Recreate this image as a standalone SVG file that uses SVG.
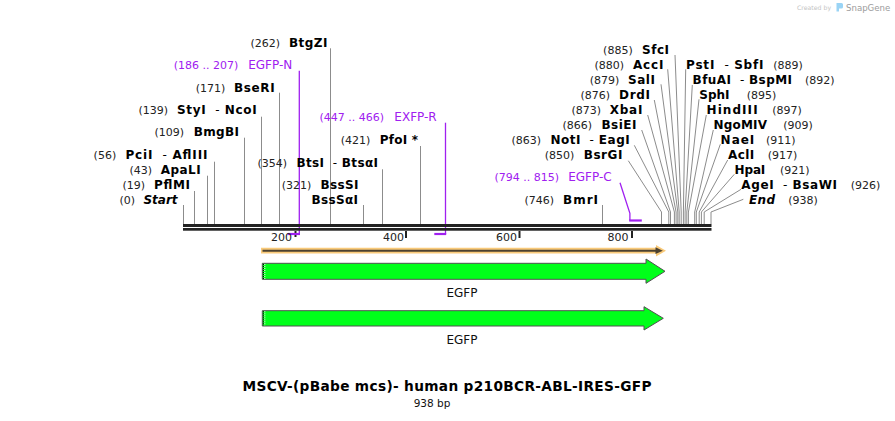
<svg xmlns="http://www.w3.org/2000/svg" width="895" height="421" viewBox="0 0 895 421" xml:space="preserve">
<style>
text{font-family:"DejaVu Sans","Liberation Sans",sans-serif;white-space:pre}
.n{font-size:11px;fill:#222}
.b{font-size:12px;font-weight:bold;fill:#000}
.h{font-size:12px;font-weight:normal;fill:#000}
.p{fill:#a020f0}
.pn{font-size:11px}
.pl{font-size:12px}
.e{text-anchor:end}
.cut{stroke:#8c8c8c;stroke-width:1;fill:none}
.pr{stroke:#a020f0;stroke-width:1.3;fill:none}
.prb{stroke:#a020f0;stroke-width:2.2;fill:none}
.tk{stroke:#222;stroke-width:2}
.tl{font-size:11px;fill:#222;text-anchor:end}
.gfp{fill:#00ff1a;stroke:#505050;stroke-width:1}
.lbl{font-size:12px;fill:#111;text-anchor:middle}
</style>
<rect width="895" height="421" fill="#fff"/>

<!-- watermark -->
<g id="watermark">
<text x="797" y="10" style="font-size:6.2px;fill:#c4c4c4">Created by</text>
<path d="M836.5,3 h5 q1.5,0 1.5,1.5 v2.5 q0,1.5 -1.5,1.5 h-2.5 v3 h-2.5 z" fill="#9ad4f5"/>
<text x="846" y="11" style="font-size:8.6px;fill:#9c9c9c">SnapGene</text>
</g>

<!-- connectors -->
<g id="connectors">
<line class="cut" x1="183.5" y1="205" x2="183.5" y2="224"/>
<line class="cut" x1="194.5" y1="191" x2="194.5" y2="224"/>
<line class="cut" x1="207.5" y1="175.7" x2="207.5" y2="224"/>
<line class="cut" x1="214.5" y1="161.7" x2="214.5" y2="224"/>
<line class="cut" x1="244.5" y1="137.7" x2="244.5" y2="224"/>
<line class="cut" x1="261.5" y1="116.7" x2="261.5" y2="224"/>
<line class="cut" x1="279.5" y1="92.7" x2="279.5" y2="224"/>
<line class="cut" x1="330.5" y1="48.3" x2="330.5" y2="224"/>
<line class="cut" x1="363.5" y1="205" x2="363.5" y2="224"/>
<line class="cut" x1="382.5" y1="169.3" x2="382.5" y2="224"/>
<line class="cut" x1="420.5" y1="146" x2="420.5" y2="224"/>
<line class="cut" x1="602.5" y1="205" x2="602.5" y2="224"/>
<!-- right cluster, left-side labels -->
<polyline class="cut" points="628.3,160.7 661.5,212 661.5,224"/>
<polyline class="cut" points="634.3,145.3 668.8,212 668.8,224"/>
<polyline class="cut" points="641.7,130 670.5,212 670.5,224"/>
<polyline class="cut" points="647.7,115 674.4,212 674.4,224"/>
<polyline class="cut" points="654.3,100 676.1,212 676.1,224"/>
<polyline class="cut" points="661,84.3 677.8,212 677.8,224"/>
<polyline class="cut" points="667.7,69.3 679.2,212 679.2,224"/>
<polyline class="cut" points="675,55 681.2,212 681.2,224"/>
<!-- right cluster, right-side labels -->
<polyline class="cut" points="685.7,69.3 683.4,212 683.4,224"/>
<polyline class="cut" points="692.3,85 685.1,212 685.1,224"/>
<polyline class="cut" points="699,99.3 686.8,212 686.8,224"/>
<polyline class="cut" points="706.3,115 688.4,212 688.4,224"/>
<polyline class="cut" points="713.3,130 694.7,212 694.7,224"/>
<polyline class="cut" points="720.3,144.3 696.3,212 696.3,224"/>
<polyline class="cut" points="727.7,160 699.2,212 699.2,224"/>
<polyline class="cut" points="734.3,174.3 701.4,212 701.4,224"/>
<polyline class="cut" points="741,189.3 704.2,212 704.2,224"/>
<polyline class="cut" points="743.3,199.3 711,212 711,224"/>
<!-- primers -->
<polyline class="pr" points="299.3,70.7 299.3,234"/>
<line class="prb" x1="287.7" y1="234" x2="300" y2="234"/>
<polyline class="pr" points="445.5,122.7 445.5,234"/>
<line class="prb" x1="434.3" y1="234" x2="446.2" y2="234"/>
<polyline class="pr" points="620,182.7 629.9,213.3 629.9,220.5"/>
<line class="prb" x1="629.2" y1="220.5" x2="641.8" y2="220.5"/>
</g>

<!-- backbone and ruler -->
<g id="backbone">
<rect x="183" y="224" width="528.5" height="3" fill="#222"/>
<rect x="183" y="228" width="528.5" height="2.7" fill="#222"/>
<line class="tk" x1="295.5" y1="231" x2="295.5" y2="238" stroke-dasharray="2,2"/>
<line class="tk" x1="406" y1="231" x2="406" y2="238"/>
<line class="tk" x1="519.5" y1="231" x2="519.5" y2="238"/>
<line class="tk" x1="632" y1="231" x2="632" y2="238"/>
<text class="tl" x="292" y="241">200</text>
<text class="tl" x="404" y="241">400</text>
<text class="tl" x="517" y="241">600</text>
<text class="tl" x="628.5" y="241">800</text>
</g>

<!-- left sites -->
<g id="site-start"><text class="n e" x="135" y="204.2">(0)</text><text class="b e" x="177.5" y="204.2" font-style="italic" textLength="34" lengthAdjust="spacing">Start</text></g>
<g id="site-pflmi"><text class="n e" x="145" y="189.2">(19)</text><text class="b e" x="190" y="189.2" textLength="36" lengthAdjust="spacing">PflMI</text></g>
<g id="site-apali"><text class="n e" x="152" y="174.2">(43)</text><text class="b e" x="200.7" y="174.2" textLength="40" lengthAdjust="spacing">ApaLI</text></g>
<g id="site-pcii"><text class="n e" x="116.2" y="159.2">(56)</text><text class="b e" x="207.4" y="159.2" textLength="82" lengthAdjust="spacing">PciI<tspan class="h">  - </tspan>AflIII</text></g>
<g id="site-bmgbi"><text class="n e" x="184" y="136">(109)</text><text class="b e" x="239" y="136" textLength="45.3" lengthAdjust="spacing">BmgBI</text></g>
<g id="site-styi"><text class="n e" x="168" y="114.2">(139)</text><text class="b e" x="256.7" y="114.2" textLength="79.7" lengthAdjust="spacing">StyI<tspan class="h">  - </tspan>NcoI</text></g>
<g id="site-bseri"><text class="n e" x="225.3" y="91.5">(171)</text><text class="b e" x="274.7" y="91.5" textLength="40.7" lengthAdjust="spacing">BseRI</text></g>
<g id="primer-egfp-n"><text class="p pn e" x="238.3" y="69.2">(186 .. 207)</text><text class="p pl e" x="292.3" y="69.2">EGFP-N</text></g>
<g id="site-btgzi"><text class="n e" x="280" y="46.5">(262)</text><text class="b e" x="327.4" y="46.5" textLength="38.4" lengthAdjust="spacing">BtgZI</text></g>
<g id="site-bsssi"><text class="n e" x="311.3" y="189.2">(321)</text><text class="b e" x="358.4" y="189.2" textLength="38" lengthAdjust="spacing">BssSI</text><text class="b e" x="358" y="203.5" textLength="46.6" lengthAdjust="spacing">BssSαI</text></g>
<g id="site-btsi"><text class="n e" x="287" y="166.5">(354)</text><text class="b e" x="378" y="166.5" textLength="81.6" lengthAdjust="spacing">BtsI<tspan class="h">  - </tspan>BtsαI</text></g>
<g id="site-pfoi"><text class="n e" x="370.3" y="144.2">(421)</text><text class="b e" x="418" y="144.2" textLength="38.3" lengthAdjust="spacing">PfoI *</text></g>
<g id="primer-exfp-r"><text class="p pn e" x="384" y="121">(447 .. 466)</text><text class="p pl e" x="436.7" y="121">EXFP-R</text></g>

<!-- right cluster, left-side labels -->
<g id="site-bmri"><text class="n e" x="554" y="204.2">(746)</text><text class="b e" x="598" y="204.2" textLength="35" lengthAdjust="spacing">BmrI</text></g>
<g id="primer-egfp-c"><text class="p pn e" x="559" y="181">(794 .. 815)</text><text class="p pl e" x="611.7" y="181">EGFP-C</text></g>
<g id="site-bsrgi"><text class="n e" x="574.3" y="159.2">(850)</text><text class="b e" x="622.4" y="159.2" textLength="38.7" lengthAdjust="spacing">BsrGI</text></g>
<g id="site-noti"><text class="n e" x="541" y="143.5">(863)</text><text class="b e" x="629.7" y="143.5" textLength="79.3" lengthAdjust="spacing">NotI<tspan class="h">  - </tspan>EagI</text></g>
<g id="site-bsiei"><text class="n e" x="592" y="128.5">(866)</text><text class="b e" x="636.4" y="128.5" textLength="35" lengthAdjust="spacing">BsiEI</text></g>
<g id="site-xbai"><text class="n e" x="601" y="113.5">(873)</text><text class="b e" x="642.4" y="113.5" textLength="32.7" lengthAdjust="spacing">XbaI</text></g>
<g id="site-drdi"><text class="n e" x="610" y="98.5">(876)</text><text class="b e" x="650" y="98.5" textLength="31" lengthAdjust="spacing">DrdI</text></g>
<g id="site-sali"><text class="n e" x="619.3" y="83.5">(879)</text><text class="b e" x="655" y="83.5" textLength="27" lengthAdjust="spacing">SalI</text></g>
<g id="site-acci"><text class="n e" x="624" y="68.5">(880)</text><text class="b e" x="663.4" y="68.5" textLength="30.4" lengthAdjust="spacing">AccI</text></g>
<g id="site-sfci"><text class="n e" x="632.7" y="54.2">(885)</text><text class="b e" x="669" y="54.2" textLength="27" lengthAdjust="spacing">SfcI</text></g>

<!-- right cluster, right-side labels -->
<g id="site-psti"><text class="b" x="686" y="68.5" textLength="77.5" lengthAdjust="spacing">PstI<tspan class="h">  - </tspan>SbfI</text><text class="n" x="773.3" y="68.5">(889)</text></g>
<g id="site-bfuai"><text class="b" x="692.6" y="84.2" textLength="99.4" lengthAdjust="spacing">BfuAI<tspan class="h">  - </tspan>BspMI</text><text class="n" x="805" y="84.2">(892)</text></g>
<g id="site-sphi"><text class="b" x="699.3" y="98.5">SphI</text><text class="n" x="746.7" y="98.5">(895)</text></g>
<g id="site-hindiii"><text class="b" x="706.6" y="114.2" textLength="51" lengthAdjust="spacing">HindIII</text><text class="n" x="772.3" y="114.2">(897)</text></g>
<g id="site-ngomiv"><text class="b" x="713.6" y="129.2" textLength="53.4" lengthAdjust="spacing">NgoMIV</text><text class="n" x="783.3" y="129.2">(909)</text></g>
<g id="site-naei"><text class="b" x="720.6" y="143.5" textLength="33.7" lengthAdjust="spacing">NaeI</text><text class="n" x="766" y="143.5">(911)</text></g>
<g id="site-acli"><text class="b" x="728" y="159.2" textLength="26.3" lengthAdjust="spacing">AclI</text><text class="n" x="767.7" y="159.2">(917)</text></g>
<g id="site-hpai"><text class="b" x="734.6" y="173.5" textLength="30.7" lengthAdjust="spacing">HpaI</text><text class="n" x="780" y="173.5">(921)</text></g>
<g id="site-agei"><text class="b" x="741.3" y="188.5" textLength="95.7" lengthAdjust="spacing">AgeI<tspan class="h">  - </tspan>BsaWI</text><text class="n" x="850.7" y="188.5">(926)</text></g>
<g id="site-end"><text class="b" x="749" y="204.2" font-style="italic" textLength="26" lengthAdjust="spacing">End</text><text class="n" x="788.3" y="204.2">(938)</text></g>

<!-- features -->
<g id="orf">
<path d="M261,247.8 H656 V245 L666,250.7 L656,256.5 V253.6 H261 Z" fill="#f9ca7a"/>
<line x1="262.5" y1="250.7" x2="658" y2="250.7" stroke="#4b4130" stroke-width="2"/>
<path d="M655.5,247.3 L662.8,250.7 L655.5,254.1 Z" fill="#4b4130"/>
</g>
<g id="egfp-1">
<polygon class="gfp" points="262.3,263.3 646,263.3 646,259 665,271.3 646,283.3 646,279.3 262.3,279.3"/>
<line x1="263.5" y1="264" x2="263.5" y2="279" stroke="#000" stroke-width="1" stroke-dasharray="1,1"/>
<line x1="264.8" y1="264" x2="264.8" y2="279" stroke="#fff" stroke-width="1" stroke-dasharray="1,1"/>
<text class="lbl" x="462" y="297">EGFP</text>
</g>
<g id="egfp-2">
<polygon class="gfp" points="262.3,310.7 644,310.7 644,306.7 663.3,318.3 644,330 644,326 262.3,326"/>
<line x1="263.5" y1="311.3" x2="263.5" y2="325.5" stroke="#000" stroke-width="1" stroke-dasharray="1,1"/>
<line x1="264.8" y1="311.3" x2="264.8" y2="325.5" stroke="#fff" stroke-width="1" stroke-dasharray="1,1"/>
<text class="lbl" x="462" y="343.6">EGFP</text>
</g>

<g id="title">
<text x="242.5" y="391" textLength="409" lengthAdjust="spacing" style="font-size:13.7px;font-weight:bold;fill:#000">MSCV-(pBabe mcs)- human p210BCR-ABL-IRES-GFP</text>
<text x="432" y="407" text-anchor="middle" style="font-size:10.5px;fill:#111">938 bp</text>
</g>
</svg>
